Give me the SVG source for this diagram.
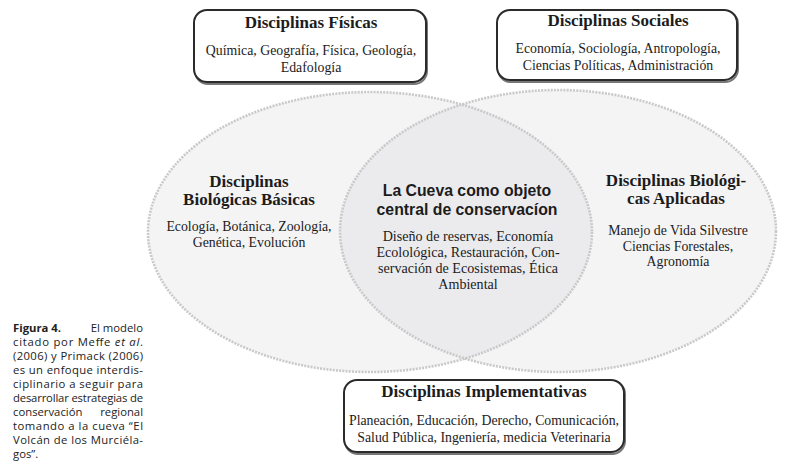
<svg xmlns="http://www.w3.org/2000/svg" width="788" height="469" viewBox="0 0 788 469">
<style>
.box{fill:#ffffff;stroke:#2b2b2b;stroke-width:2}
.shadow{fill:none;stroke:#777;stroke-width:2}
.ell{fill:#f4f4f5}
.ring{fill:none;stroke:#c9c9c9;stroke-width:2.6;stroke-dasharray:2 1.2}
.title{font-family:"Liberation Serif",serif;font-weight:bold;font-size:17px;fill:#1c1c1c;text-anchor:middle}
.body{font-family:"Liberation Serif",serif;font-size:13.8px;fill:#1c1c1c;text-anchor:middle}
.cbody{font-family:"Liberation Serif",serif;font-size:14.1px;fill:#1c1c1c;text-anchor:middle}
.ctitle{font-family:"Liberation Sans","DejaVu Sans",sans-serif;font-weight:bold;font-size:15.8px;fill:#1c1c1c;text-anchor:middle}
.cap{font-family:"Open Sans","DejaVu Sans",sans-serif;font-size:11.3px;fill:#222}
</style>
<defs>
<clipPath id="leftClip"><ellipse cx="370" cy="232" rx="222" ry="140"/></clipPath>
</defs>
<rect width="788" height="469" fill="#ffffff"/>

<g id="venn">
<ellipse class="ell" cx="370" cy="232" rx="222" ry="140"/>
<ellipse class="ell" cx="558" cy="231" rx="218" ry="141"/>
<ellipse cx="558" cy="231" rx="218" ry="141" fill="#ebebee" clip-path="url(#leftClip)"/>
<ellipse class="ring" cx="370" cy="232" rx="222" ry="140"/>
<ellipse class="ring" cx="558" cy="231" rx="218" ry="141"/>
</g>

<g id="fisicas">
<rect class="shadow" x="195" y="11" width="232" height="73" rx="13"/>
<rect class="box" x="194" y="10" width="232" height="72" rx="13"/>
<text class="title" x="311" y="28">Disciplinas Físicas</text>
<text class="body" x="311" y="55">Química, Geografía, Física, Geología,</text>
<text class="body" x="311" y="72">Edafología</text>
</g>

<g id="sociales">
<rect class="shadow" x="498" y="11" width="240" height="71" rx="13"/>
<rect class="box" x="497" y="10" width="240" height="70" rx="13"/>
<text class="title" x="618" y="26">Disciplinas Sociales</text>
<text class="body" x="618" y="53">Economía, Sociología, Antropología,</text>
<text class="body" x="618" y="70">Ciencias Políticas, Administración</text>
</g>

<g id="basicas">
<text class="title" x="249" y="187">Disciplinas</text>
<text class="title" x="249" y="205">Biológicas Básicas</text>
<text class="body" x="249" y="231">Ecología, Botánica, Zoología,</text>
<text class="body" x="249" y="247">Genética, Evolución</text>
</g>

<g id="cueva">
<text class="ctitle" x="467" y="196">La Cueva como objeto</text>
<text class="ctitle" x="467" y="214.5">central de conservacíon</text>
<text class="cbody" x="468" y="241">Diseño de reservas, Economía</text>
<text class="cbody" x="468" y="257">Ecolológica, Restauración, Con-</text>
<text class="cbody" x="468" y="273">servación de Ecosistemas, Ética</text>
<text class="cbody" x="468" y="289">Ambiental</text>
</g>

<g id="aplicadas">
<text class="title" x="676" y="186">Disciplinas Biológi-</text>
<text class="title" x="676" y="204">cas Aplicadas</text>
<text class="body" x="678" y="235">Manejo de Vida Silvestre</text>
<text class="body" x="678" y="251">Ciencias Forestales,</text>
<text class="body" x="678" y="266">Agronomía</text>
</g>

<g id="implementativas">
<rect class="shadow" x="345" y="381" width="280" height="73" rx="13"/>
<rect class="box" x="344" y="380" width="280" height="72" rx="13"/>
<text class="title" x="484" y="397">Disciplinas Implementativas</text>
<text class="body" x="484" y="425">Planeación, Educación, Derecho, Comunicación,</text>
<text class="body" x="484" y="442">Salud Pública, Ingeniería, medicia Veterinaria</text>
</g>

<g id="caption">
<text class="cap" x="13" y="332"><tspan font-weight="bold">Figura 4.</tspan></text>
<text class="cap" x="143" y="332" text-anchor="end">El modelo</text>
<text class="cap" x="13" y="346" textLength="130" lengthAdjust="spacing">citado por Meffe <tspan font-style="italic">et al</tspan>.</text>
<text class="cap" x="13" y="360" textLength="130" lengthAdjust="spacing">(2006) y Primack (2006)</text>
<text class="cap" x="13" y="374" textLength="130" lengthAdjust="spacing">es un enfoque interdis-</text>
<text class="cap" x="13" y="388" textLength="130" lengthAdjust="spacing">ciplinario a seguir para</text>
<text class="cap" x="13" y="402" textLength="130" lengthAdjust="spacing">desarrollar estrategias de</text>
<text class="cap" x="13" y="416">conservación</text>
<text class="cap" x="143" y="416" text-anchor="end">regional</text>
<text class="cap" x="13" y="430" textLength="130" lengthAdjust="spacing">tomando a la cueva “El</text>
<text class="cap" x="13" y="444" textLength="130" lengthAdjust="spacing">Volcán de los Murciéla-</text>
<text class="cap" x="13" y="458">gos”.</text>
</g>
</svg>
